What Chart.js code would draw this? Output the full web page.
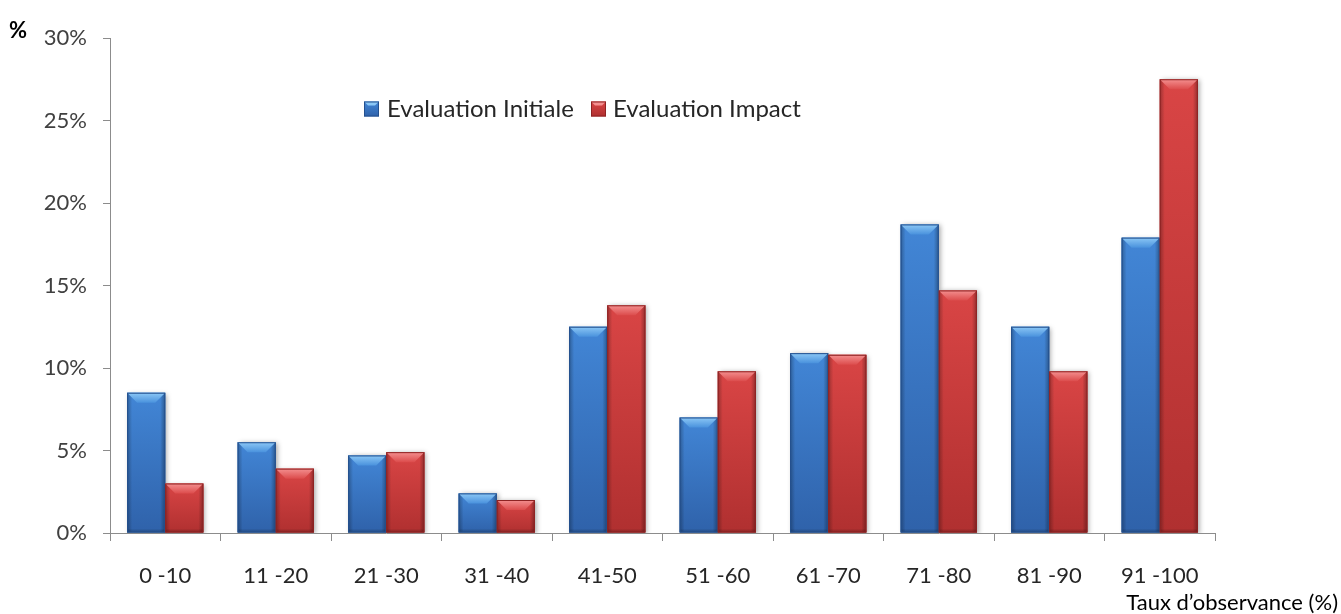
<!DOCTYPE html>
<html>
<head>
<meta charset="utf-8">
<script src="https://cdn.jsdelivr.net/npm/chart.js@4/dist/chart.umd.min.js"></script>
<style>
  html, body { margin: 0; padding: 0; background: #ffffff; }
  #wrap { width: 1341px; height: 614px; position: relative; }
</style>
</head>
<body>
<div id="wrap"><canvas id="chart"></canvas></div>
<script>
// Observance rate classes and share of patients (%) per evaluation
const categories = ['0 -10', '11 -20', '21 -30', '31 -40', '41-50', '51 -60', '61 -70', '71 -80', '81 -90', '91 -100'];
const evaluationInitiale = [8.5, 5.5, 4.7, 2.4, 12.5, 7.0, 10.9, 18.7, 12.5, 17.9];
const evaluationImpact = [3.0, 3.9, 4.9, 2.0, 13.8, 9.8, 10.8, 14.7, 9.8, 27.5];
const seriesNames = ['Evaluation Initiale', 'Evaluation Impact'];
const yAxisUnit = '%';
const xAxisTitle = 'Taux d\u2019observance (%)';

const FONT = 'Lato, "DejaVu Sans", sans-serif';

// Palette for the bevelled bars: body top/bottom, top facet, edge
const shades = [
  { base: '#3a7bcc', top: '#4286d6', bottom: '#2f62aa', facetA: '#8cc8f6', facetB: '#4a92dd', edge: '#24508e' },
  { base: '#d03c3c', top: '#d94545', bottom: '#b03030', facetA: '#f49090', facetB: '#dc4c4c', edge: '#8e2323' }
];

// Soft drop shadow under the bars
const barShadow = {
  id: 'barShadow',
  beforeDatasetsDraw(chart) {
    const ctx = chart.ctx;
    ctx.save();
    ctx.shadowColor = 'rgba(0,0,0,0.35)';
    ctx.shadowBlur = 5;
    ctx.shadowOffsetX = 2;
    ctx.shadowOffsetY = 1;
  },
  afterDatasetsDraw(chart) {
    chart.ctx.restore();
  }
};

// Bevel shading painted over each bar element
const barBevel = {
  id: 'barBevel',
  afterDatasetsDraw(chart) {
    const ctx = chart.ctx;
    chart.data.datasets.forEach((ds, di) => {
      const meta = chart.getDatasetMeta(di);
      const s = shades[di];
      meta.data.forEach(bar => {
        const p = bar.getProps(['x', 'y', 'base', 'width'], true);
        const l = p.x - p.width / 2, r = p.x + p.width / 2;
        const t = p.y, b = p.base;
        const h = b - t;
        if (h <= 0) return;
        ctx.save();
        // body
        const g = ctx.createLinearGradient(0, t, 0, b);
        g.addColorStop(0, s.top);
        g.addColorStop(1, s.bottom);
        ctx.fillStyle = g;
        ctx.fillRect(l, t, r - l, h);
        // side edges
        const bev = 5;
        const gl = ctx.createLinearGradient(l, 0, l + bev, 0);
        gl.addColorStop(0, 'rgba(0,0,0,0.28)');
        gl.addColorStop(1, 'rgba(0,0,0,0)');
        ctx.fillStyle = gl;
        ctx.fillRect(l, t, bev, h);
        const gr = ctx.createLinearGradient(r - bev, 0, r, 0);
        gr.addColorStop(0, 'rgba(0,0,0,0)');
        gr.addColorStop(1, 'rgba(0,0,0,0.32)');
        ctx.fillStyle = gr;
        ctx.fillRect(r - bev, t, bev, h);
        // bottom edge
        const gb = ctx.createLinearGradient(0, b - 4, 0, b);
        gb.addColorStop(0, 'rgba(0,0,0,0)');
        gb.addColorStop(1, 'rgba(0,0,0,0.25)');
        ctx.fillStyle = gb;
        ctx.fillRect(l, b - 4, r - l, 4);
        // top facet
        const f = Math.min(10, h / 2);
        const gt = ctx.createLinearGradient(0, t, 0, t + f);
        gt.addColorStop(0, s.facetA);
        gt.addColorStop(1, s.facetB);
        ctx.fillStyle = gt;
        ctx.beginPath();
        ctx.moveTo(l, t);
        ctx.lineTo(r, t);
        ctx.lineTo(r - f, t + f);
        ctx.lineTo(l + f, t + f);
        ctx.closePath();
        ctx.fill();
        // outline
        ctx.strokeStyle = s.edge;
        ctx.lineWidth = 1;
        ctx.strokeRect(l + 0.5, t + 0.5, r - l - 1, h - 1);
        ctx.restore();
      });
    });
  }
};

// Legend row, unit mark and axis caption
const annotations = {
  id: 'annotations',
  afterDraw(chart) {
    const ctx = chart.ctx;
    ctx.save();
    ctx.textBaseline = 'middle';
    // legend
    const items = [
      { x: 364, textX: 387 },
      { x: 591, textX: 613 }
    ];
    const ly = 109;
    items.forEach((it, i) => {
      const s = shades[i];
      const sz = 15;
      const y0 = ly - sz / 2;
      const g = ctx.createLinearGradient(0, y0, 0, y0 + sz);
      g.addColorStop(0, s.top);
      g.addColorStop(1, s.bottom);
      ctx.fillStyle = g;
      ctx.fillRect(it.x, y0, sz, sz);
      ctx.fillStyle = s.facetA;
      ctx.beginPath();
      ctx.moveTo(it.x, y0);
      ctx.lineTo(it.x + sz, y0);
      ctx.lineTo(it.x + sz - 4, y0 + 4);
      ctx.lineTo(it.x + 4, y0 + 4);
      ctx.closePath();
      ctx.fill();
      ctx.strokeStyle = s.edge;
      ctx.lineWidth = 1;
      ctx.strokeRect(it.x + 0.5, y0 + 0.5, sz - 1, sz - 1);
      ctx.fillStyle = '#262626';
      ctx.font = '24px ' + FONT;
      ctx.textAlign = 'left';
      ctx.fillText(seriesNames[i], it.textX, ly);
    });
    // unit mark
    ctx.fillStyle = '#000000';
    ctx.font = 'bold 22px ' + FONT;
    ctx.textAlign = 'left';
    ctx.fillText(yAxisUnit, 9, 31);
    // x axis caption
    ctx.font = '22px ' + FONT;
    ctx.textAlign = 'right';
    ctx.fillText(xAxisTitle, 1338, 603);
    ctx.restore();
  }
};

new Chart(document.getElementById('chart'), {
  type: 'bar',
  data: {
    labels: categories,
    datasets: [
      { label: seriesNames[0], data: evaluationInitiale, backgroundColor: shades[0].base, borderWidth: 0 },
      { label: seriesNames[1], data: evaluationImpact, backgroundColor: shades[1].base, borderWidth: 0 }
    ]
  },
  options: {
    responsive: true,
    maintainAspectRatio: false,
    animation: false,
    layout: { padding: { left: 0, right: 126, top: 38, bottom: 0 } },
    datasets: { bar: { categoryPercentage: 0.69, barPercentage: 1.0 } },
    plugins: {
      legend: { display: false },
      tooltip: { enabled: false }
    },
    scales: {
      x: {
        afterFit(scale) { scale.height = 81; },
        grid: { drawOnChartArea: false, drawTicks: true, tickLength: 8, color: '#8c8c8c', offset: true },
        border: { color: '#8c8c8c', width: 1 },
        ticks: { color: '#262626', font: { family: FONT, size: 22 }, padding: 22, maxRotation: 0, autoSkip: false }
      },
      y: {
        min: 0,
        max: 30,
        afterFit(scale) { scale.width = 110; },
        grid: { drawOnChartArea: false, drawTicks: true, tickLength: 7, color: '#8c8c8c' },
        border: { color: '#8c8c8c', width: 1 },
        ticks: {
          stepSize: 5,
          color: '#404040',
          font: { family: FONT, size: 22 },
          padding: 16,
          callback: v => v + '%'
        }
      }
    }
  },
  plugins: [barShadow, barBevel, annotations]
});
</script>
</body>
</html>
